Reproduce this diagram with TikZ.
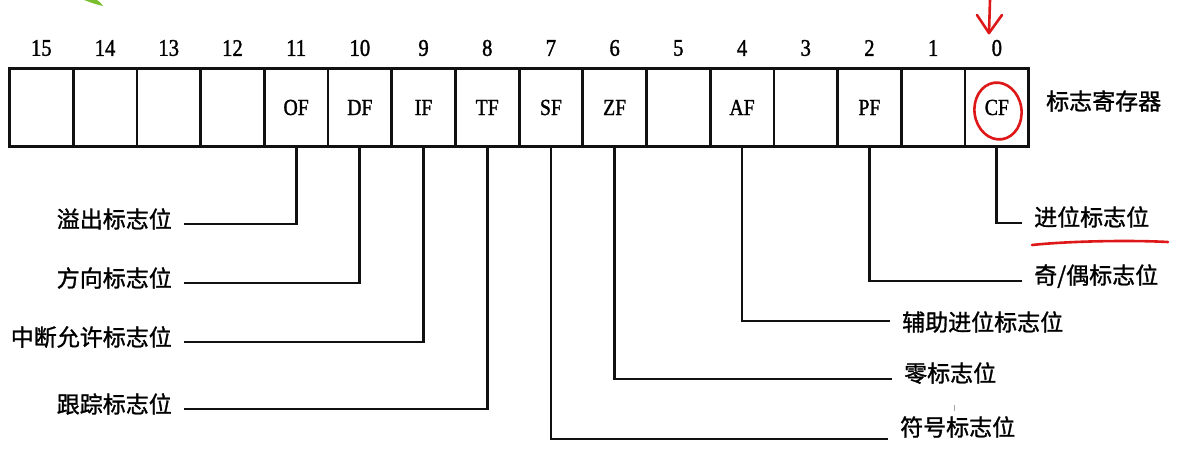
\documentclass[tikz,border=0pt]{standalone}
\usepackage{fontspec}
\setmainfont{Liberation Serif}[FakeBold=1.3,FakeStretch=0.86]
\newfontfamily\cjk{Noto Sans CJK SC}[FakeBold=1.2]
\definecolor{markred}{RGB}{222,24,24}
\definecolor{leafgreen}{RGB}{120,190,45}
\definecolor{inkc}{RGB}{17,17,17}
\begin{document}
\begin{tikzpicture}[x=1pt,y=-1pt,
  cell/.style={draw=inkc,line width=2.8pt,minimum width=63.7pt,minimum height=78.5pt,inner sep=0pt,outer sep=0pt,font=\fontsize{23}{23}\selectfont},
  bitnum/.style={inner sep=0pt,font=\fontsize{24}{24}\selectfont},
  lab/.style={font=\cjk\fontsize{23}{23}\selectfont,text height=0.83em,text depth=0.07em,inner ysep=0pt,inner xsep=12pt},
  conn/.style={draw=inkc,line width=2.8pt},
  redmark/.style={draw=markred,line width=2.6pt,line cap=round,line join=round}]
\useasboundingbox (0,0) rectangle (1181,461);
\fill[white] (0,0) rectangle (1181,461);

% register cells and bit numbers
\foreach \i/\t in {15/{},14/{},13/{},12/{},11/OF,10/DF,9/IF,8/TF,7/SF,6/ZF,5/{},4/AF,3/{},2/PF,1/{},0/CF}{
  \pgfmathsetmacro\cx{41.35+63.7*(15-\i)}
  \node[cell] (c\i) at (\cx,107.5) {\t};
  \node[bitnum] (n\i) at (\cx,48) {\i};
}
\node[font=\cjk\fontsize{23}{23}\selectfont,anchor=west,inner sep=0pt,text height=0.83em,text depth=0.07em] (reg) at (1046,106) {标志寄存器};

% flag labels
\node[lab,anchor=east] (l11) at (184,224) {溢出标志位};
\node[lab,anchor=east] (l10) at (184,283) {方向标志位};
\node[lab,anchor=east] (l9)  at (184,342) {中断允许标志位};
\node[lab,anchor=east] (l8)  at (184,409) {跟踪标志位};
\node[lab,anchor=west] (l7)  at (888,432) {符号标志位};
\node[lab,anchor=west] (l6)  at (892,378) {零标志位};
\node[lab,anchor=west] (l4)  at (890,327) {辅助进位标志位};
\node[lab,anchor=west] (l2)  at (1022,280) {奇/偶标志位};
\node[lab,anchor=west] (l0)  at (1022,222) {进位标志位};

% connectors
\draw[conn] (c11.south) |- (l11.east);
\draw[conn] (c10.south) |- (l10.east);
\draw[conn] (c9.south)  |- (l9.east);
\draw[conn] (c8.south)  |- (l8.east);
\draw[conn] (c7.south)  |- ([yshift=-7pt]l7.west);
\draw[conn] (c6.south)  |- ([yshift=-1pt]l6.west);
\draw[conn] (c4.south)  |- ([yshift=6pt]l4.west);
\draw[conn] (c2.south)  |- ([yshift=-1pt]l2.west);
\draw[conn] (c0.south)  |- ([yshift=-1pt]l0.west);

% small grey tick between the two labels
\draw[gray!70,line width=1pt] (954,405) -- (954,411);

% red annotations
\draw[redmark,rotate around={8:(998,111)}] (998,111) ellipse [x radius=23.5pt,y radius=28.5pt];
\coordinate (arrtop) at (990,0);
\coordinate (arrtip) at (989,33);
\draw[redmark] (arrtop) -- (arrtip);
\draw[redmark] (977,15) -- (arrtip) -- (1002,15);
\draw[redmark] (1032,245) .. controls (1070,241) and (1130,240) .. (1168,242);

% green leaf fragment at the top edge
\fill[leafgreen] (84,0) .. controls (92,3) and (98,5) .. (103,6) .. controls (101,3) .. (97,0) -- cycle;
\end{tikzpicture}
\end{document}
